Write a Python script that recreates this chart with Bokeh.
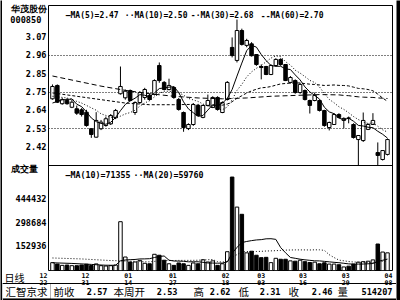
import pandas as pd
from bokeh.plotting import figure
from bokeh.layouts import row, column
from bokeh.models import Range1d, FixedTicker, Label, BoxAnnotation, Span, ColumnDataSource
from bokeh.core.properties import value
from bokeh.embed import file_html
from bokeh.resources import INLINE

# ---------------- data ----------------
stock_name = "华茂股份"
stock_code = "000850"
dates = ["12/22", "12/23", "12/24", "12/27", "12/28", "12/29", "12/30", "12/31",
         "01/04", "01/05", "01/06", "01/07", "01/10", "01/11", "01/12", "01/13", "01/14",
         "01/17", "01/18", "01/19", "01/20", "01/21", "01/24", "01/25", "01/26", "01/27", "01/28", "01/31",
         "02/01", "02/02", "02/03", "02/04", "02/16", "02/17", "02/18", "02/21", "02/22", "02/23", "02/24",
         "02/25", "02/28", "03/01", "03/02", "03/03", "03/04", "03/07", "03/08", "03/09", "03/10", "03/11",
         "03/14", "03/15", "03/16", "03/17", "03/18", "03/21", "03/22", "03/23", "03/24", "03/25",
         "03/28", "03/29", "03/30", "03/31", "04/01", "04/04", "04/05", "04/06", "04/07", "04/08"]
tick_dates = ["12/22", "12/31", "01/14", "01/27", "02/18", "03/03", "03/16", "03/29", "04/08"]

opens = [2.705, 2.784, 2.676, 2.695, 2.655, 2.646, 2.640, 2.626, 2.528, 2.478,
         2.528, 2.547, 2.557, 2.593, 2.735, 2.711, 2.754, 2.624, 2.683, 2.713,
         2.725, 2.731, 2.902, 2.802, 2.760, 2.772, 2.701, 2.624, 2.529, 2.553,
         2.666, 2.595, 2.666, 2.654, 2.713, 2.624, 2.701, 3.009, 2.932, 3.109,
         3.021, 3.030, 2.967, 2.896, 2.896, 2.849, 2.902, 2.938, 2.908, 2.802,
         2.813, 2.742, 2.754, 2.695, 2.695, 2.695, 2.636, 2.535, 2.553, 2.612,
         2.577, 2.592, 2.553, 2.464, 2.458, 2.524, 2.553, 2.387, 2.346, 2.376]
highs = [2.790, 2.790, 2.710, 2.710, 2.700, 2.665, 2.650, 2.640, 2.530, 2.626,
         2.580, 2.600, 2.615, 2.645, 2.896, 2.760, 2.760, 2.690, 2.750, 2.770,
         2.735, 2.820, 2.920, 2.810, 2.824, 2.780, 2.710, 2.630, 2.560, 2.680,
         2.675, 2.670, 2.730, 2.720, 2.720, 2.690, 2.810, 3.068, 3.174, 3.120,
         3.060, 3.040, 2.970, 2.908, 2.900, 2.910, 2.945, 2.945, 2.910, 2.840,
         2.820, 2.800, 2.760, 2.700, 2.742, 2.700, 2.640, 2.570, 2.620, 2.620,
         2.595, 2.600, 2.560, 2.490, 2.624, 2.560, 2.620, 2.447, 2.400, 2.470]
lows = [2.700, 2.680, 2.670, 2.670, 2.650, 2.610, 2.600, 2.540, 2.474, 2.475,
        2.520, 2.540, 2.550, 2.585, 2.730, 2.700, 2.690, 2.610, 2.675, 2.700,
        2.695, 2.725, 2.800, 2.755, 2.755, 2.705, 2.635, 2.510, 2.520, 2.545,
        2.600, 2.590, 2.660, 2.650, 2.635, 2.620, 2.695, 2.950, 2.920, 3.020,
        3.010, 2.955, 2.900, 2.820, 2.845, 2.845, 2.895, 2.900, 2.810, 2.795,
        2.735, 2.735, 2.695, 2.618, 2.690, 2.630, 2.540, 2.518, 2.550, 2.590,
        2.530, 2.560, 2.470, 2.310, 2.450, 2.520, 2.550, 2.310, 2.340, 2.370]
closes = [2.778, 2.685, 2.700, 2.676, 2.685, 2.620, 2.612, 2.547, 2.494, 2.577,
          2.567, 2.587, 2.606, 2.636, 2.778, 2.750, 2.695, 2.683, 2.742, 2.760,
          2.701, 2.813, 2.813, 2.760, 2.784, 2.713, 2.642, 2.535, 2.553, 2.671,
          2.606, 2.666, 2.695, 2.713, 2.642, 2.683, 2.802, 2.961, 3.109, 3.027,
          3.050, 2.960, 2.908, 2.890, 2.849, 2.902, 2.938, 2.908, 2.813, 2.831,
          2.742, 2.790, 2.701, 2.666, 2.725, 2.636, 2.547, 2.565, 2.612, 2.595,
          2.589, 2.590, 2.476, 2.488, 2.577, 2.553, 2.577, 2.370, 2.399, 2.464]
volumes = [49000, 40000, 32000, 34000, 30000, 30000, 34000, 39000, 31000, 41000,
           30000, 28000, 30000, 34000, 304000, 84000, 53000, 53000, 63000, 45000,
           42000, 101000, 95000, 64000, 42000, 32000, 47000, 42000, 32000, 47000,
           42000, 67000, 53000, 60000, 32000, 42000, 117000, 582000, 395000, 350000,
           110000, 120000, 95000, 80000, 82000, 49000, 76000, 70000, 70000, 60000,
           58000, 64000, 55000, 50000, 52000, 42000, 48000, 40000, 40000, 36000,
           22000, 27000, 40000, 52000, 55000, 58000, 66000, 165000, 115000, 110000]

# moving-average values before the window is full
ma5_head_idx, ma5_head = [0, 1, 2, 3], [2.68, 2.69, 2.70, 2.70]
ma10_head_idx, ma10_head = [0, 3, 6], [2.72, 2.71, 2.68]
ma30_head_idx, ma30_head = [0, 5, 10, 15, 20, 25], [2.74, 2.72, 2.70, 2.68, 2.67, 2.67]
ma60_head_idx = [0, 5, 10, 15, 20, 25, 30, 35, 40, 45, 50, 55]
ma60_head = [2.84, 2.81, 2.78, 2.755, 2.735, 2.72, 2.71, 2.705, 2.71, 2.72, 2.725, 2.73]
vma10_head_idx, vma10_head = [0, 4, 8], [48000, 44000, 38000]
vma20_head_idx, vma20_head = [0, 6, 12, 18], [78000, 72000, 62000, 56000]

ma_prefix = ["—", "··", "-·", "--"]
ma_text = ["MA(5)=2.47", "MA(10)=2.50", "MA(30)=2.68", "MA(60)=2.70"]
vol_prefix = ["—", "··"]
vol_text = ["MA(10)=71355", "MA(20)=59760"]

price_ticks = [2.42, 2.528, 2.637, 2.745, 2.853, 2.962, 3.07]
price_tick_labels = ["2.42", "2.53", "2.64", "2.75", "2.85", "2.96", "3.07"]
price_grid = [2.528, 2.745, 2.962]
vol_ticks = [152936, 298684, 444432]

info_names = ["前收", "本周开", "高", "低", "收", "量"]
info_values = ["2.57", "2.53", "2.62", "2.31", "2.46", "514207"]

# ---------------- layout constants (window pixels) ----------------
W, H = 400, 300
STRIP_L, STRIP_R, STRIP_T = 2, 4, 1
MID_W = W - STRIP_L - STRIP_R
MAIN_H = 270
BOT_H = H - STRIP_T - MAIN_H
FL, FT, FR, FB = 48, 5, 392, 270

PRICE_TOP, PRICE_SPLIT = 3.257, 2.3105
PRICE_PX = 160
VOL_PX = FB - FT - PRICE_PX
VOL_SPLIT = 654000
ppx = (PRICE_TOP - PRICE_SPLIT) / PRICE_PX
y_lo = PRICE_TOP - (FB - FT) * ppx
vol_hi = VOL_SPLIT * (FB - FT) / VOL_PX

N = len(closes)
idx = list(range(N))
X0, X1 = -0.82, N - 1 + 1.03
upx = (X1 - X0) / (FR - FL)

# pixel nudges of the date labels, as the reference places them
date_label_nudge = [-9, -1, -2, -1, 8, 0, -2, -3, 1]

MONO = "DejaVu Sans Mono"
CJK = "Noto Sans CJK SC"


def no_align(fig):
    if "frame_align" in fig.properties():
        fig.frame_align = False
    return fig


main = figure(width=MID_W, height=MAIN_H, output_backend="svg", toolbar_location=None,
              x_range=Range1d(X0, X1), y_range=Range1d(y_lo, PRICE_TOP),
              x_axis_location=None, y_axis_location="left",
              min_border_left=FL - STRIP_L, min_border_right=STRIP_L + MID_W - FR,
              min_border_top=FT - STRIP_T, min_border_bottom=STRIP_T + MAIN_H - FB,
              outline_line_color="black", outline_line_width=1,
              background_fill_color="white", border_fill_color="white")
no_align(main)
main.extra_y_ranges = {"vol": Range1d(0, vol_hi)}

for g in main.ygrid:
    g.ticker = FixedTicker(ticks=price_grid)
    g.grid_line_color = "black"
    g.grid_line_dash = "1 2"
    g.grid_line_width = 1
for g in main.xgrid:
    g.visible = False


def win_y_to_price(cy):
    return round(PRICE_TOP - (cy - FT) * ppx, 6)


# left axis: stock name/code, price ticks, volume caption and volume ticks
vol_as_price = [round(y_lo + v / vol_hi * (PRICE_TOP - y_lo), 6) for v in vol_ticks]
side_ticks = [win_y_to_price(8.5), win_y_to_price(19.5), win_y_to_price(168)]
side_labels = [stock_name, stock_code + "\u2002", "成交量\u3000"]
overrides = {t: l for t, l in zip(price_ticks, price_tick_labels)}
overrides.update({t: str(v) for t, v in zip(vol_as_price, vol_ticks)})
overrides.update({t: l for t, l in zip(side_ticks, side_labels)})
yax = main.yaxis[0]
yax.ticker = FixedTicker(ticks=price_ticks + vol_as_price + side_ticks)
yax.major_label_overrides = overrides
yax.major_tick_line_color = None
yax.minor_tick_line_color = None
yax.major_tick_out = 0
yax.major_tick_in = 0
yax.axis_line_color = None
yax.major_label_standoff = 2
yax.major_label_text_font = MONO
yax.major_label_text_font_style = "bold"
yax.major_label_text_font_size = "8.6px"
yax.major_label_text_color = "black"

# candles
up = [c >= o for o, c in zip(opens, closes)]
src = ColumnDataSource(dict(
    x=idx, h=highs, l=lows,
    top=[max(o, c) for o, c in zip(opens, closes)],
    bot=[min(o, c) for o, c in zip(opens, closes)],
    fill=["white" if u else "black" for u in up],
    vol=volumes))
main.segment(x0="x", y0="h", x1="x", y1="l", source=src, line_color="black", line_width=1)
main.vbar(x="x", width=0.72, top="top", bottom="bot", fill_color="fill",
          line_color="black", line_width=1, source=src)
main.vbar(x="x", width=0.72, top="vol", bottom=0, fill_color="fill",
          line_color="black", line_width=1, source=src, y_range_name="vol")


def ma_line(values, n, head_idx, head_vals):
    calc = pd.Series(values, dtype=float).rolling(n).mean()
    xs = list(head_idx) + list(range(n - 1, N))
    ys = list(head_vals) + list(calc[n - 1:])
    return xs, ys


for n, hi, hv, dash in [(5, ma5_head_idx, ma5_head, "solid"),
                        (10, ma10_head_idx, ma10_head, "1 2"),
                        (30, ma30_head_idx, ma30_head, "3 2"),
                        (60, ma60_head_idx, ma60_head, "5 3")]:
    xs, ys = ma_line(closes, n, hi, hv)
    main.line(xs, ys, line_color="black", line_width=1, line_dash=dash)

for n, hi, hv, dash in [(10, vma10_head_idx, vma10_head, "solid"),
                        (20, vma20_head_idx, vma20_head, "1 2")]:
    xs, ys = ma_line(volumes, n, hi, hv)
    main.line(xs, ys, line_color="black", line_width=1, line_dash=dash, y_range_name="vol")

main.add_layout(Span(location=PRICE_SPLIT, dimension="width", line_color="black", line_width=1))


def main_text(txt, cx, cy, size, font=MONO, align="left", bold=True):
    main.add_layout(Label(x=cx - FL, y=FB - cy, x_units="screen", y_units="screen", text=txt,
                          text_font_size=f"{size}px", text_font=font, text_align=align,
                          text_baseline="middle", text_font_style="bold" if bold else "normal",
                          text_color="black"))


for pre, txt, cx in zip(ma_prefix, ma_text, [70, 134, 200, 270]):
    main_text(pre, cx, 15, 8, align="right")
    main_text(txt, cx, 15, 8)
for pre, txt, cx in zip(vol_prefix, vol_text, [70, 143]):
    main_text(pre, cx, 174, 8.3, align="right")
    main_text(txt, cx, 174, 8.3)

# ---------------- bottom strip: dates and weekly info bar ----------------
bot = figure(width=MID_W, height=BOT_H, output_backend="svg", toolbar_location=None,
             x_range=Range1d(X0 - (FL - STRIP_L) * upx, X1 + (STRIP_L + MID_W - FR) * upx),
             y_range=Range1d(0, BOT_H), x_axis_location=None, y_axis_location=None,
             min_border=0, outline_line_color=None,
             background_fill_color="white", border_fill_color="white")
no_align(bot)
for g in list(bot.xgrid) + list(bot.ygrid):
    g.visible = False

tick_idx = [dates.index(d) for d in tick_dates]
date_src = ColumnDataSource(dict(x=tick_idx, y=[BOT_H] * len(tick_idx),
                                 text=[d.replace("/", "\n") for d in tick_dates],
                                 dx=date_label_nudge))
bot.text(x="x", y="y", text="text", x_offset="dx", source=date_src,
         text_align="center", text_baseline="top", text_font=value(MONO),
         text_font_size="6.5px", text_font_style="bold", text_color="black",
         text_line_height=0.95)


def bot_text(txt, cx, cy, size, font=MONO, align="left", bold=True):
    bot.add_layout(Label(x=cx - STRIP_L, y=H - cy, x_units="screen", y_units="screen", text=txt,
                         text_font_size=f"{size}px", text_font=font, text_align=align,
                         text_baseline="middle", text_font_style="bold" if bold else "normal",
                         text_color="black"))


bot_text("日线", 4, 276.5, 10, font=CJK, bold=False)
bot.add_layout(Span(location=H - 283, dimension="width", line_color="black", line_width=1))
bot.add_layout(Span(location=1, dimension="width", line_color="black", line_width=2))
bot.add_layout(BoxAnnotation(left=0, right=50 - STRIP_L, top=H - 283, bottom=1.5,
                             left_units="screen", right_units="screen",
                             top_units="screen", bottom_units="screen",
                             fill_color=None, line_color="black", line_width=1))
bot_text("汇智京求", 5, 291, 10.5, font=CJK, bold=False)
for name, nx in zip(info_names, [53, 113, 193, 238, 288, 337]):
    bot_text(name, nx, 291, 10.5, font=CJK, bold=False)
for val, vx in zip(info_values, [107, 177, 230, 280, 332, 392]):
    bot_text(val, vx, 291, 8.6, align="right")


# ---------------- window border strips ----------------
def strip(w, h):
    s = figure(width=w, height=h, output_backend="svg", toolbar_location=None,
               x_range=Range1d(0, 1), y_range=Range1d(0, 1),
               x_axis_location=None, y_axis_location=None, min_border=0,
               outline_line_color=None, background_fill_color="black",
               border_fill_color="black")
    no_align(s)
    for g in list(s.xgrid) + list(s.ygrid):
        g.visible = False
    return s


layout = row(strip(STRIP_L, H),
             column(strip(MID_W, STRIP_T), main, bot),
             strip(STRIP_R, H))

open("out.html", "w").write(file_html(layout, INLINE))
